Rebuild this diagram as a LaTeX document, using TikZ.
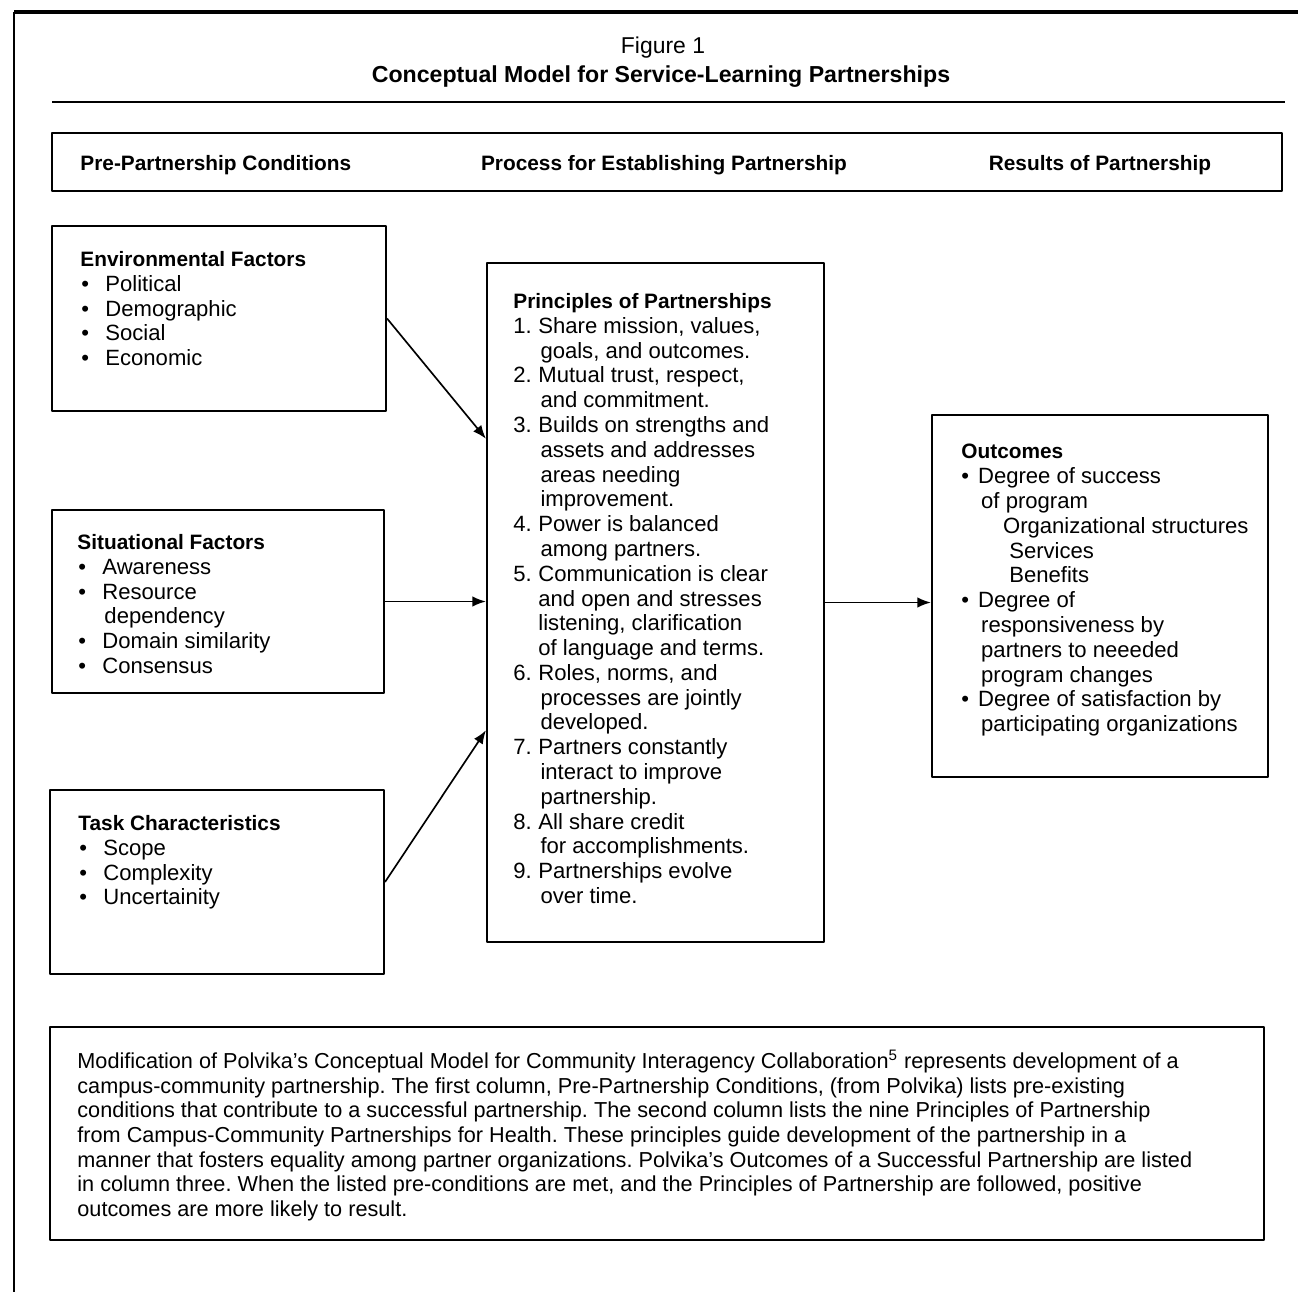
\documentclass[tikz,border=0pt]{standalone}
\usepackage{fontspec}
\setmainfont{Liberation Sans}
\usetikzlibrary{arrows.meta,fit}
\frenchspacing
\newcommand{\bul}{\makebox[12pt][l]{\hspace{0.5pt}\textbullet}}
\newcommand{\num}[1]{\makebox[12pt][l]{#1}}
\newcommand{\ind}{\hspace*{13pt}}
\tikzset{
  box/.style={draw, line width=1pt, inner sep=0pt},
  txt/.style={anchor=north west, align=left, inner sep=0pt, font=\fontsize{10.6}{11.9}\selectfont},
  head/.style={anchor=base, inner sep=0pt, font=\bfseries\fontsize{10}{12}\selectfont},
  link/.style={->, line width=0.8pt},
}
\begin{document}
\begin{tikzpicture}[x=0.48pt, y=-0.48pt, >={Latex[length=6.5pt,width=5pt]}, line join=round]
	\useasboundingbox (0,0) rectangle (1298,1292);
	% frame and title
	\draw[line width=2pt] (14,12) -- (1298,12);
	\draw[line width=1pt] (14,12) -- (14,1292);
	\node[anchor=base, inner sep=0pt, font=\fontsize{11}{13}\selectfont] (fig) at (663,53) {Figure 1};
	\node[anchor=base, inner sep=0pt, font=\bfseries\fontsize{11.1}{13}\selectfont] (ttl) at (661,82) {Conceptual Model for Service-Learning Partnerships};
	\draw[line width=0.8pt] (52,102) -- (1285,102);
	% column heads
	\node[box, fit={(52,133) (1282,191)}] (hdr) {};
	\node[head, anchor=base west] (h1) at (80,170) {Pre-Partnership Conditions};
	\node[head] (h2) at (664,170) {Process for Establishing Partnership};
	\node[head] (h3) at (1100,170) {Results of Partnership};
	% boxes
	\node[box, fit={(52,226) (386,411)}] (env) {};
	\node[box, fit={(52,510) (384,693)}] (sit) {};
	\node[box, fit={(50,790) (384,974)}] (task) {};
	\node[box, fit={(487,263) (824,942)}] (pr) {};
	\node[box, fit={(932,415) (1268,777)}] (out) {};
	\node[box, fit={(50,1027) (1264,1240)}] (note) {};
	% texts
	\node[txt] (envt) at (80,251) {\textbf{\fontsize{10}{11.9}\selectfont Environmental Factors}\\
		\bul Political\\ \bul Demographic\\ \bul Social\\ \bul Economic};
	\node[txt] (sitt) at (77,534) {\textbf{\fontsize{10}{11.9}\selectfont Situational Factors}\\
		\bul Awareness\\ \bul Resource\\ \ind dependency\\ \bul Domain similarity\\ \bul Consensus};
	\node[txt] (taskt) at (78,815) {\textbf{\fontsize{10}{11.9}\selectfont Task Characteristics}\\
		\bul Scope\\ \bul Complexity\\ \bul Uncertainity};
	\node[txt] (prt) at (513,293) {\textbf{\fontsize{10}{11.9}\selectfont Principles of Partnerships}\\
		\num{1.}Share mission, values,\\ \ind goals, and outcomes.\\
		\num{2.}Mutual trust, respect,\\ \ind and commitment.\\
		\num{3.}Builds on strengths and\\ \ind assets and addresses\\ \ind areas needing\\ \ind improvement.\\
		\num{4.}Power is balanced\\ \ind among partners.\\
		\num{5.}Communication is clear\\ \hspace*{12pt}and open and stresses\\ \hspace*{12pt}listening, clarification\\ \hspace*{12pt}of language and terms.\\
		\num{6.}Roles, norms, and\\ \ind processes are jointly\\ \ind developed.\\
		\num{7.}Partners constantly\\ \ind interact to improve\\ \ind partnership.\\
		\num{8.}All share credit\\ \ind for accomplishments.\\
		\num{9.}Partnerships evolve\\ \ind over time.};
	\node[txt] (outt) at (961,444) {\textbf{\fontsize{10}{11.9}\selectfont Outcomes}\\
		\makebox[8pt][l]{\textbullet}Degree of success\\ \hspace*{9.5pt}of program\\
		\hspace*{20pt}Organizational structures\\ \hspace*{23pt}Services\\ \hspace*{23pt}Benefits\\
		\makebox[8pt][l]{\textbullet}Degree of\\ \hspace*{9.5pt}responsiveness by\\ \hspace*{9.5pt}partners to neeeded\\ \hspace*{9.5pt}program changes\\
		\makebox[8pt][l]{\textbullet}Degree of satisfaction by\\ \hspace*{9.5pt}participating organizations};
	\node[txt, font=\fontsize{10.4}{11.86}\selectfont] (notet) at (77,1050) {Modification of Polvika's Conceptual Model for Community Interagency Collaboration\textsuperscript{5} represents development of a\\
		campus-community partnership. The first column, Pre-Partnership Conditions, (from Polvika) lists pre-existing\\
		conditions that contribute to a successful partnership. The second column lists the nine Principles of Partnership\\
		from Campus-Community Partnerships for Health. These principles guide development of the partnership in a\\
		manner that fosters equality among partner organizations. Polvika's Outcomes of a Successful Partnership are listed\\
		in column three. When the listed pre-conditions are met, and the Principles of Partnership are followed, positive\\
		outcomes are more likely to result.};
	% arrows
	\draw[link] (env.east) -- (pr.136);
	\draw[link] (sit.east) -- (sit.east -| pr.west);
	\draw[link] (task.east) -- (pr.217);
	\draw[link] (pr.east) -- (pr.east -| out.west);
\end{tikzpicture}
\end{document}
